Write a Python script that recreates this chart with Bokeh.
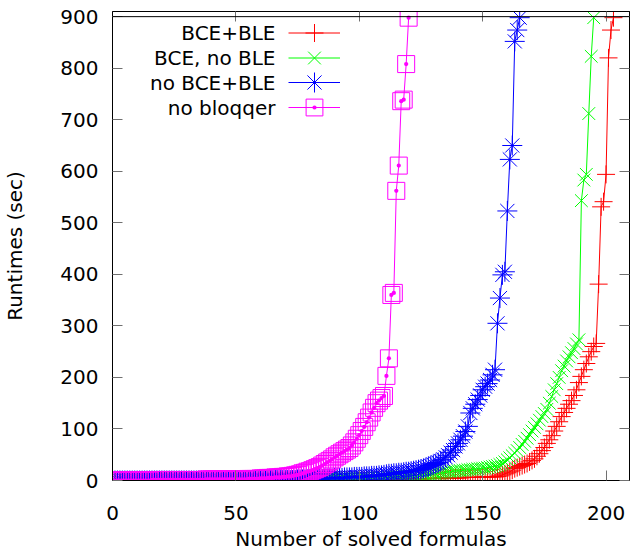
from bokeh.plotting import figure
from bokeh.models import (LinearAxis, FixedTicker, Range1d, Span, Legend,
                          LegendItem, Label)
from bokeh.embed import file_html
from bokeh.resources import INLINE

# ---------------- data ----------------
x_ticks = [0, 50, 100, 150, 200]
y_ticks = [0, 100, 200, 300, 400, 500, 600, 700, 800, 900]
x_title = "Number of solved formulas"
y_title = "Runtimes (sec)"
series_names = ["BCE+BLE", "BCE, no BLE", "no BCE+BLE", "no bloqqer"]

bce_ble = [
    0, 0, 0, 0, 0, 0, 0, 0, 0, 0,
    0, 0, 0, 0, 0, 0, 0, 0, 0, 0,
    0, 0, 0, 0, 0, 0, 0, 0, 0, 0,
    0, 0, 0, 0, 0, 0, 0, 0, 0, 0,
    0, 0, 0, 0, 0, 0, 0, 0, 0, 0,
    0, 0, 0, 0, 0, 0, 0, 0, 0, 0,
    0, 0, 0, 0, 0, 0, 0, 0, 0, 0,
    0, 0, 0, 0, 0, 0, 0, 0, 1, 1,
    1, 1, 1, 1, 1, 1, 1, 1, 1, 1,
    1, 1, 1, 1, 1, 1, 1, 1, 1, 1,
    1, 1, 1, 1, 1, 1, 2, 2, 2, 2,
    2, 2, 2, 2, 2, 2, 3, 3, 3, 3,
    3, 3, 3, 3, 3, 3, 4, 4, 4, 4,
    4, 4, 4, 5, 5, 5, 5, 5, 5, 5,
    5, 6, 6, 6, 6, 6, 6, 6, 6, 7,
    7, 7, 7, 7, 7, 8, 9, 11, 13, 15,
    17, 20, 23, 25, 27, 29, 31, 33, 36, 39,
    42, 47, 52, 58, 64, 72, 79, 87, 96, 105,
    114, 124, 132, 140, 148, 155, 165, 176, 190, 202,
    215, 227, 240, 250, 260, 266, 381, 531, 541, 594,
    820, 874, 898,
]

bce_no_ble = [
    0, 0, 0, 0, 0, 0, 0, 0, 0, 0,
    0, 0, 0, 0, 0, 0, 0, 0, 0, 0,
    0, 0, 0, 0, 0, 0, 0, 0, 0, 0,
    0, 0, 0, 0, 0, 0, 0, 0, 0, 0,
    0, 0, 0, 0, 0, 0, 0, 0, 0, 0,
    0, 0, 0, 0, 0, 0, 0, 0, 0, 0,
    0, 0, 0, 0, 0, 0, 0, 0, 0, 0,
    0, 0, 0, 0, 0, 0, 0, 0, 0, 0,
    1, 1, 1, 1, 2, 2, 2, 2, 2, 2,
    2, 2, 3, 3, 3, 3, 3, 3, 3, 3,
    4, 4, 4, 4, 4, 5, 5, 5, 5, 5,
    6, 6, 6, 6, 7, 7, 7, 7, 8, 8,
    8, 9, 9, 10, 10, 11, 11, 12, 12, 13,
    13, 14, 14, 15, 16, 17, 17, 18, 18, 19,
    19, 20, 20, 21, 21, 22, 22, 23, 23, 24,
    24, 25, 26, 27, 28, 29, 31, 33, 36, 40,
    44, 48, 53, 58, 64, 70, 76, 82, 89, 96,
    103, 110, 117, 124, 130, 138, 150, 163, 176, 188,
    200, 213, 222, 232, 240, 248, 256, 265, 273, 543,
    583, 594, 712, 823, 898,
]

no_bce_ble = [
    0, 0, 0, 0, 0, 0, 0, 0, 0, 0,
    0, 0, 0, 0, 0, 0, 0, 0, 0, 0,
    0, 0, 0, 0, 0, 0, 0, 0, 0, 0,
    0, 0, 0, 0, 0, 0, 0, 0, 0, 0,
    0, 0, 0, 0, 0, 0, 0, 0, 0, 0,
    0, 0, 0, 0, 0, 0, 0, 0, 0, 0,
    1, 1, 1, 1, 1, 1, 1, 1, 1, 1,
    1, 1, 1, 1, 2, 2, 2, 2, 2, 2,
    3, 3, 3, 3, 3, 4, 4, 4, 4, 5,
    5, 5, 5, 6, 6, 6, 6, 7, 7, 7,
    7, 8, 8, 8, 9, 9, 9, 10, 10, 11,
    12, 13, 13, 14, 14, 15, 15, 16, 17, 17,
    18, 19, 20, 21, 22, 23, 25, 27, 29, 31,
    33, 35, 38, 41, 45, 49, 54, 59, 66, 72,
    79, 86, 95, 105, 131, 140, 148, 157, 165, 176,
    182, 188, 195, 205, 215, 305, 354, 399, 405, 523,
    623, 650, 852, 874, 898,
]

no_bloqqer = [
    0, 0, 0, 0, 0, 0, 0, 0, 0, 0,
    0, 0, 0, 0, 0, 1, 1, 1, 1, 1,
    1, 1, 1, 1, 1, 1, 1, 1, 1, 1,
    1, 1, 1, 1, 1, 1, 1, 2, 2, 2,
    2, 2, 2, 2, 2, 2, 2, 2, 2, 2,
    2, 2, 2, 2, 3, 3, 3, 3, 3, 4,
    4, 4, 5, 5, 5, 6, 6, 6, 7, 7,
    8, 8, 9, 10, 11, 12, 14, 15, 17, 18,
    20, 22, 24, 26, 29, 32, 35, 38, 41, 45,
    48, 51, 54, 57, 60, 63, 68, 74, 81, 88,
    96, 104, 113, 122, 132, 141, 150, 155, 160, 164,
    203, 237, 360, 364, 562, 611, 736, 739, 808, 898,
]

series_values = [bce_ble, bce_no_ble, no_bce_ble, no_bloqqer]
colors = ["#ff0000", "#00ff00", "#0000ff", "#ff00ff"]
markers = ["cross", "x", "asterisk", "square_dot"]
marker_sizes = [18, 18, 20, 17]

FONT = "DejaVu Sans"

# ---------------- figure ----------------
p = figure(width=631, height=553,
           x_range=Range1d(0, 209.5), y_range=Range1d(0, 910),
           output_backend="svg", toolbar_location=None,
           min_border_left=111, min_border_right=2,
           min_border_top=11, min_border_bottom=72)
p.background_fill_color = "white"
p.border_fill_color = "white"
p.outline_line_color = "black"
p.outline_line_width = 1
p.xgrid.visible = False
p.ygrid.visible = False

def style_axis(ax, show_labels, ticks):
    ax.ticker = FixedTicker(ticks=ticks)
    ax.axis_line_color = "black"
    ax.major_tick_in = 10
    ax.major_tick_out = 0
    ax.minor_tick_line_color = None
    ax.major_tick_line_color = "#707070"
    ax.major_label_text_font = FONT
    ax.major_label_text_color = "black"
    ax.axis_label_text_font = FONT
    ax.axis_label_text_font_style = "normal"
    ax.axis_label_text_color = "black"
    if show_labels:
        ax.major_label_text_font_size = "20px"
        ax.axis_label_text_font_size = "20px"
    else:
        ax.major_label_overrides = {t: "" for t in ticks}
        ax.major_label_text_font_size = "1px"
        ax.major_label_standoff = 0
        ax.axis_label_standoff = 0

xa = p.xaxis[0]
style_axis(xa, True, x_ticks)
xa.axis_label = x_title
xa.major_label_standoff = 25
xa.axis_label_standoff = 4

ya = p.yaxis[0]
style_axis(ya, True, y_ticks)
ya.axis_label = y_title
ya.major_label_standoff = 14
ya.axis_label_standoff = 30

top_ax = LinearAxis()
style_axis(top_ax, False, x_ticks)
p.add_layout(top_ax, "above")
right_ax = LinearAxis()
style_axis(right_ax, False, y_ticks)
p.add_layout(right_ax, "right")

p.add_layout(Span(location=900, dimension="width", line_color="black",
                  line_width=1))

renderers = []
for vals, col, mk, ms in zip(series_values, colors, markers, marker_sizes):
    xs = list(range(1, len(vals) + 1))
    rl = p.line(xs, vals, line_color=col, line_width=1)
    rs = p.scatter(xs, vals, marker=mk, size=ms, line_color=col,
                   fill_color=None, line_width=1)
    renderers.append((rl, rs))

# legend: text right-aligned, sample to its right (gnuplot style)
row_y = [448, 423, 398, 373]          # screen px from frame bottom
for name, (rl, rs), ry, ms in zip(series_names, renderers, row_y, marker_sizes):
    gh = int(ms / 0.4)
    leg = Legend(items=[LegendItem(label=" ", renderers=[rl, rs])],
                 location=(176, int(ry - gh / 2)),
                 glyph_width=52, glyph_height=gh,
                 label_width=0, label_standoff=0, label_height=gh,
                 label_text_font_size="1px",
                 padding=0, margin=0, spacing=0,
                 background_fill_alpha=0, border_line_alpha=0)
    p.add_layout(leg)
    p.add_layout(Label(x=163, y=ry, x_units="screen", y_units="screen",
                       text=name, text_align="right", text_baseline="middle",
                       text_font=FONT, text_font_size="20px",
                       text_color="black"))

open("out.html", "w").write(file_html(p, INLINE))
